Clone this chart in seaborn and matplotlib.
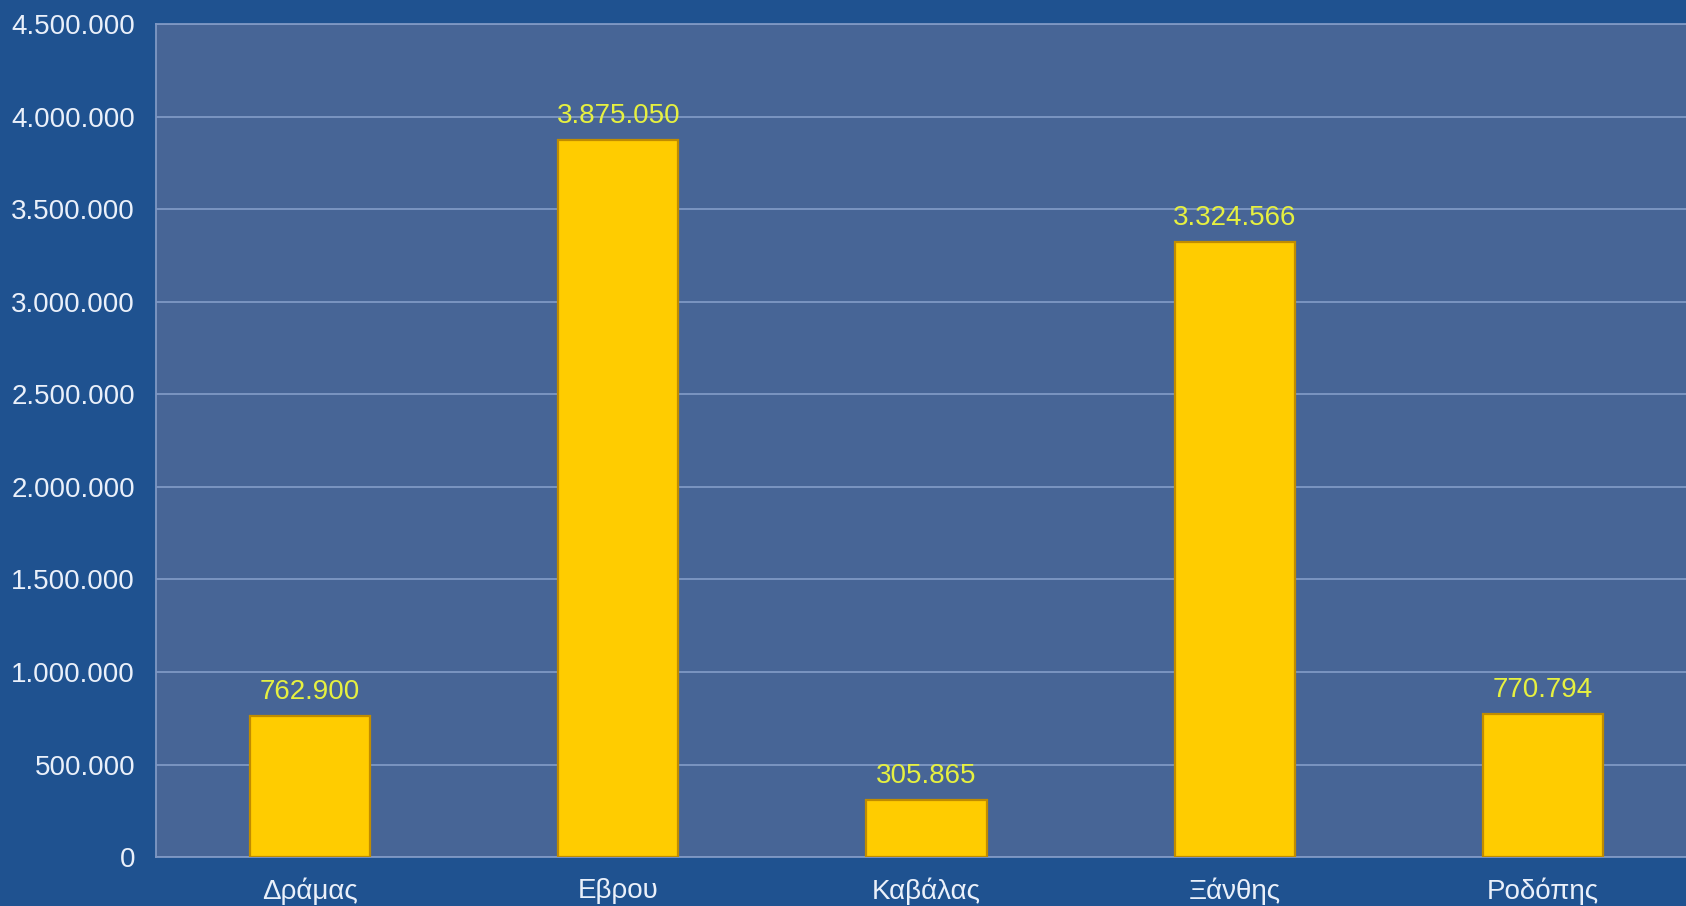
import matplotlib.pyplot as plt
import seaborn as sns
import pandas as pd
from matplotlib.ticker import FuncFormatter

# values
regions = ["Δράμας", "Εβρου", "Καβάλας", "Ξάνθης", "Ροδόπης"]
amounts = [762900, 3875050, 305865, 3324566, 770794]
y_ticks = [0, 500000, 1000000, 1500000, 2000000, 2500000, 3000000, 3500000, 4000000, 4500000]

outer_bg = "#1f5290"
panel_bg = "#476596"
grid_col = "#7f98c4"
bar_col = "#ffcc00"
label_col = "#e6f040"
text_col = "#eaf0fa"


def dotted(v, pos=None):
    return f"{int(v):,}".replace(",", ".")


sns.set_style("dark")
plt.rcParams["font.family"] = ["Liberation Sans", "DejaVu Sans"]

df = pd.DataFrame({"region": regions, "amount": amounts})

fig = plt.figure(figsize=(16.86, 9.06), dpi=100, facecolor=outer_bg)
ax = fig.add_axes([0.0925, 0.054, 0.914, 0.9195])
ax.set_facecolor(panel_bg)

sns.barplot(data=df, x="region", y="amount", color=bar_col, width=0.39,
            edgecolor="#c08c00", linewidth=1.6, saturation=1, ax=ax, zorder=3)

for i, v in enumerate(amounts):
    ax.text(i, v + 60000, dotted(v), ha="center", va="bottom",
            color=label_col, fontsize=20, zorder=4)

ax.set_xlim(-0.5, 4.5)
ax.set_ylim(0, 4500000)
ax.set_yticks(y_ticks)
ax.yaxis.set_major_formatter(FuncFormatter(dotted))
ax.grid(axis="y", color=grid_col, linewidth=1.3, zorder=1)
ax.grid(axis="x", visible=False)
ax.tick_params(axis="y", colors=text_col, labelsize=20, length=0, pad=15)
ax.tick_params(axis="x", colors=text_col, labelsize=20, length=0, pad=15)
ax.set_xlabel("")
ax.set_ylabel("")
for name, sp in ax.spines.items():
    sp.set_visible(True)
    sp.set_color(grid_col)
    sp.set_linewidth(1.3)
ax.spines["right"].set_visible(False)

fig.savefig("out.png", dpi=100, facecolor=outer_bg)
